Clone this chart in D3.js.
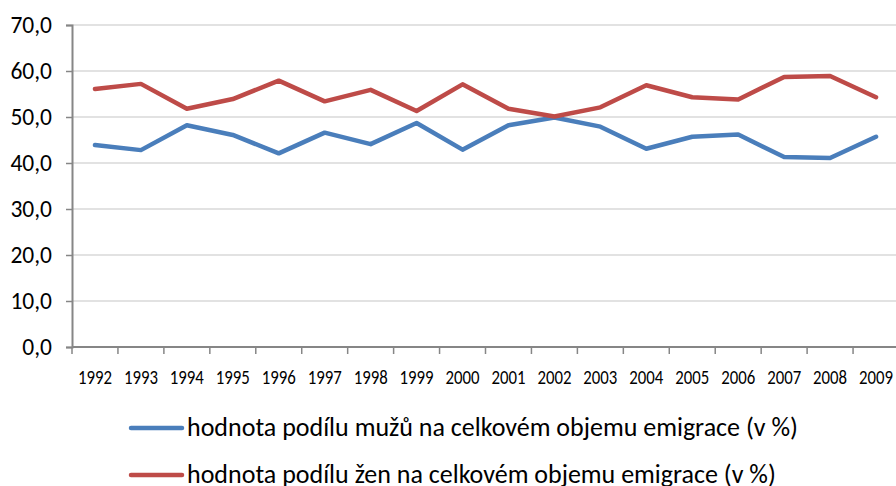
<!DOCTYPE html>
<html>
<head>
<meta charset="utf-8">
<script src="https://cdn.jsdelivr.net/npm/d3@7"></script>
<style>
  html, body { margin: 0; padding: 0; background: #fff; overflow: hidden; }
  svg { display: block; }
  text { font-family: Carlito, Calibri, "Liberation Sans", Arial, sans-serif; fill: #000; }
</style>
</head>
<body>
<svg id="chart" width="896" height="486"></svg>
<script>
const years = ["1992","1993","1994","1995","1996","1997","1998","1999","2000","2001","2002","2003","2004","2005","2006","2007","2008","2009"];
const men   = [43.9, 42.8, 48.2, 46.1, 42.1, 46.6, 44.1, 48.7, 42.9, 48.2, 49.9, 47.9, 43.1, 45.7, 46.2, 41.3, 41.1, 45.7];
const women = [56.1, 57.2, 51.8, 53.9, 57.9, 53.4, 55.9, 51.3, 57.1, 51.8, 50.1, 52.1, 56.9, 54.3, 53.8, 58.7, 58.9, 54.3];
const yTicks = [0, 10, 20, 30, 40, 50, 60, 70];
const seriesNames = [
  "hodnota podílu mužů na celkovém objemu emigrace (v %)",
  "hodnota podílu žen na celkovém objemu emigrace (v %)"
];
const colors = ["#4A7EBB", "#BE4B48"];

const FONT = 'Carlito, Calibri, "Liberation Sans", Arial, sans-serif';
const svg = d3.select("#chart");
const pLeft = 72, pRight = 899, pTop = 25, pBottom = 347;

const x = d3.scaleBand().domain(years).range([pLeft, pRight]).padding(0);
const y = d3.scaleLinear().domain([0, 70]).range([pBottom, pTop]);

// gridlines
svg.append("g").selectAll("line").data(yTicks.filter(d => d > 0)).join("line")
  .attr("x1", pLeft).attr("x2", 896)
  .attr("y1", d => y(d)).attr("y2", d => y(d))
  .attr("stroke", "#d9d9d9").attr("stroke-width", 1.5);

// y axis
const yAxis = svg.append("g").attr("transform", `translate(${pLeft},0)`)
  .call(d3.axisLeft(y).tickValues(yTicks).tickSize(6).tickPadding(14)
    .tickFormat(d => d3.format(".1f")(d).replace(".", ",")));
yAxis.select(".domain").attr("stroke", "#868686").attr("stroke-width", 2);
yAxis.selectAll(".tick line").attr("stroke", "#868686").attr("stroke-width", 1.5);
yAxis.selectAll(".tick text").attr("font-size", 23.5).style("font-family", FONT).attr("fill", "#000");

// x axis
const xAxis = svg.append("g").attr("transform", `translate(0,${pBottom})`)
  .call(d3.axisBottom(x).tickSize(0).tickPadding(0));
xAxis.select(".domain").attr("stroke", "#868686").attr("stroke-width", 2)
  .attr("d", `M${pLeft},0H896`);
xAxis.selectAll(".tick text")
  .attr("y", 37).attr("dy", 0)
  .attr("font-size", 21)
  .attr("textLength", 34).attr("lengthAdjust", "spacingAndGlyphs")
  .style("font-family", FONT)
  .attr("fill", "#000");
// category boundary ticks
const bounds = years.map(d => x(d)).concat([pRight]).filter(v => v <= 896);
xAxis.append("g").selectAll("line").data(bounds).join("line")
  .attr("x1", d => d).attr("x2", d => d)
  .attr("y1", 0).attr("y2", 7)
  .attr("stroke", "#868686").attr("stroke-width", 1.5);

// lines
const line = d3.line()
  .x((d, i) => x(years[i]) + x.bandwidth() / 2)
  .y(d => y(d));
[men, women].forEach((s, k) => {
  svg.append("path").datum(s)
    .attr("fill", "none")
    .attr("stroke", colors[k])
    .attr("stroke-width", 4.5)
    .attr("stroke-linejoin", "round")
    .attr("stroke-linecap", "round")
    .attr("d", line);
});

// legend
const legY = [428, 475];
seriesNames.forEach((name, k) => {
  const g = svg.append("g");
  g.append("line").attr("x1", 131).attr("x2", 182)
    .attr("y1", legY[k]).attr("y2", legY[k])
    .attr("stroke", colors[k]).attr("stroke-width", 4.5).attr("stroke-linecap", "round");
  g.append("text").attr("x", 187).attr("y", legY[k] + 8)
    .attr("font-size", 26)
    .style("font-family", FONT)
    .text(name);
});
</script>
</body>
</html>
